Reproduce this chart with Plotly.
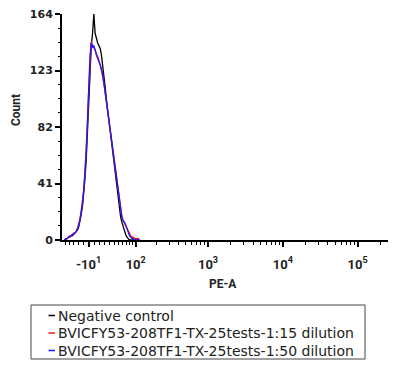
import numpy as np
import plotly.graph_objects as go

# ---------------- data ----------------
# histogram channels (display scale, 256 channels across the axis)
channels = list(range(2, 62))

neg_control = [0, 1, 1, 2, 2, 3, 3, 4, 5, 6, 7, 9, 13, 18, 24, 33, 44, 58, 78, 103,
               122, 141, 150, 164, 150, 146, 143, 141, 139, 134, 127, 119, 110, 101, 93, 85, 77, 70, 62, 54,
               45, 37, 30, 22, 17, 13, 10, 6, 4, 2, 1, 0, 0, 0, 0, 0, 0, 0, 0, 0]
dil_1_15 = [0, 0, 1, 2, 2, 3, 4, 5, 5, 6, 8, 11, 15, 20, 27, 36, 48, 64, 86, 110,
            132, 144, 141, 139, 138, 134, 132, 129, 127, 123, 119, 113, 106, 99, 92, 85, 78, 71, 64, 56,
            49, 41, 34, 28, 22, 17, 14, 12, 10, 8, 6, 4, 3, 2, 2, 1, 1, 1, 1, 0]
dil_1_50 = [0, 1, 1, 2, 3, 3, 4, 4, 5, 6, 8, 10, 14, 19, 26, 35, 47, 63, 85, 112,
            134, 143, 140, 141, 137, 135, 133, 130, 128, 124, 120, 114, 107, 100, 93, 86, 79, 72, 64, 57,
            49, 42, 35, 28, 22, 17, 14, 13, 11, 8, 5, 3, 2, 1, 1, 0, 0, 0, 0, 0]

series_names = ["Negative control",
                "BVICFY53-208TF1-TX-25tests-1:15 dilution",
                "BVICFY53-208TF1-TX-25tests-1:50 dilution"]
series_colors = ["#000000", "#ff1010", "#1a1aff"]

y_ticks = [0, 41, 82, 123, 164]
x_tick_values = [-10, 100, 1000, 10000, 100000]
x_tick_labels = ["-10<sup>1</sup>", "10<sup>2</sup>", "10<sup>3</sup>", "10<sup>4</sup>", "10<sup>5</sup>"]
x_minor_values = ([-70, -60, -50, -40, -30, -20, 0]
                  + [10, 20, 30, 40, 50, 60, 70, 80, 90]
                  + [200, 300, 400, 500, 600, 700, 800, 900]
                  + [2000, 3000, 4000, 5000, 6000, 7000, 8000, 9000]
                  + [20000, 30000, 40000, 50000, 60000, 70000, 80000, 90000, 200000])

# biexponential-like display transform: PE-A value -> channel
CH_OFFSET, CH_SCALE, LIN_WIDTH = 25.13, 25.52, 60.0


def to_channel(v):
    return CH_OFFSET + CH_SCALE * np.arcsinh(np.asarray(v, dtype=float) / LIN_WIDTH)


# ---------------- figure ----------------
fig = go.Figure()
for name, col, ys in zip(series_names, series_colors, [neg_control, dil_1_15, dil_1_50]):
    fig.add_trace(go.Scatter(x=channels, y=ys, mode="lines", name=name,
                             line=dict(color=col, width=1.3), showlegend=False))

PAGE_OFF = 8          # default body margin of the html page
W, H = 400 - PAGE_OFF, 369 - PAGE_OFF
L, T = 62 - PAGE_OFF, 14 - PAGE_OFF
pw, ph = 326, 226
R, B = W - L - pw, H - T - ph


def px_x(px):
    return (px - PAGE_OFF - L) / pw


def px_y(py):
    return (T + ph - (py - PAGE_OFF)) / ph


fig.update_layout(
    width=W, height=H,
    margin=dict(l=L, r=R, t=T, b=B, autoexpand=False),
    paper_bgcolor="white", plot_bgcolor="white",
    xaxis=dict(range=[0, 256], showline=True, linecolor="black", linewidth=2,
               showgrid=False, zeroline=False, automargin=False,
               tickmode="array", tickvals=list(to_channel(x_tick_values)),
               ticktext=["<b>%s</b>" % t for t in x_tick_labels],
               ticks="outside", ticklen=5, tickwidth=1.5, tickcolor="black",
               tickfont=dict(family="Roboto", size=13, color="#222"),
               ticklabelstandoff=6, ticklabeloverflow="allow",
               minor=dict(tickmode="array", tickvals=list(to_channel(x_minor_values)),
                          ticks="outside", ticklen=3, tickwidth=1, tickcolor="black", showgrid=False)),
    yaxis=dict(range=[0, 164], showline=True, linecolor="black", linewidth=2,
               showgrid=False, zeroline=False, automargin=False,
               tickmode="array", tickvals=y_ticks, ticktext=[str(v) for v in y_ticks],
               ticks="outside", ticklen=5, tickwidth=1.5, tickcolor="black",
               tickfont=dict(family="DejaVu Sans", size=11, color="#222", weight="bold"),
               ticklabelstandoff=0, ticklabeloverflow="allow",
               minor=dict(tick0=0, dtick=10.25, ticks="outside", ticklen=2.5, tickwidth=1,
                          tickcolor="black", showgrid=False)),
)

# axis titles
fig.add_annotation(text="<b>Count</b>", xref="paper", yref="paper", x=px_x(16), y=px_y(110),
                   xanchor="center", yanchor="middle",
                   textangle=-90, showarrow=False, font=dict(family="Roboto", size=12, color="#222"))
fig.add_annotation(text="<b>PE-A</b>", xref="paper", yref="paper", x=px_x(223), y=px_y(284),
                   xanchor="center", yanchor="middle",
                   showarrow=False, font=dict(family="Roboto", size=12, color="#222"))

# legend box
fig.add_shape(type="rect", xref="paper", yref="paper",
              x0=px_x(31), x1=px_x(365), y0=px_y(305), y1=px_y(359),
              line=dict(color="#444", width=1), fillcolor="white")
for i, (name, col) in enumerate(zip(series_names, series_colors)):
    yc = 315.5 + i * 17.5
    fig.add_shape(type="line", xref="paper", yref="paper",
                  x0=px_x(48.5), x1=px_x(55), y0=px_y(yc), y1=px_y(yc),
                  line=dict(color=col, width=1.5))
    fig.add_annotation(text=name, xref="paper", yref="paper", x=px_x(56), y=px_y(yc),
                       xanchor="left", yanchor="middle", showarrow=False,
                       font=dict(family="DejaVu Sans", size=14, color="#222"))

fig.write_html("out.html")
